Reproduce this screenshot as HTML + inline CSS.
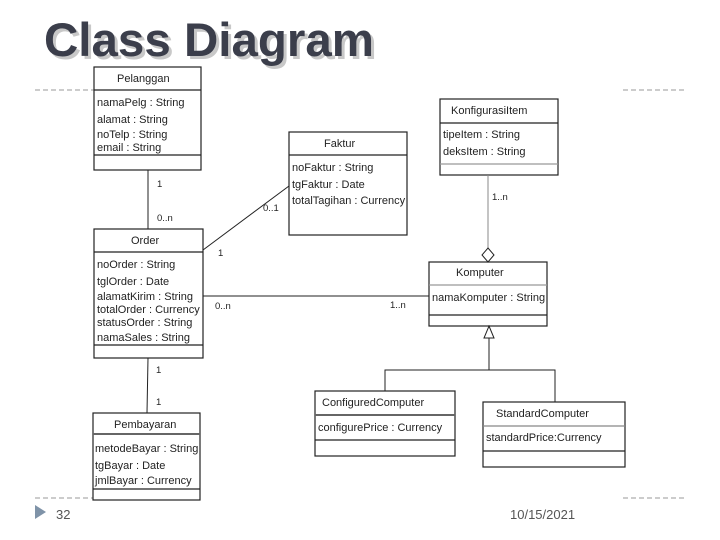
<!DOCTYPE html>
<html><head><meta charset="utf-8"><style>
html,body{margin:0;padding:0;background:#fff}
svg{display:block}
text{font-family:"Liberation Sans",sans-serif;font-size:11px;fill:#222}
</style></head><body>
<svg width="720" height="540" viewBox="0 0 720 540" xmlns="http://www.w3.org/2000/svg">
<text x="47" y="59" style="font-size:47.5px;font-weight:bold;fill:#c8c8c8">Class Diagram</text>
<text x="44" y="56" style="font-size:47.5px;font-weight:bold;fill:#3b3e4b">Class Diagram</text>
<g stroke="#999" stroke-dasharray="5,3" stroke-width="1">
<line x1="35" y1="90" x2="94" y2="90"/><line x1="623" y1="90" x2="686" y2="90"/>
<line x1="35" y1="498" x2="93" y2="498"/><line x1="623" y1="498" x2="686" y2="498"/>
</g>
<g fill="#fff" stroke="#222" stroke-width="1.2">
<rect x="94" y="67" width="107" height="103"/><line x1="94" y1="90" x2="201" y2="90"/><line x1="94" y1="155" x2="201" y2="155"/>
<rect x="289" y="132" width="118" height="103"/><line x1="289" y1="155" x2="407" y2="155"/>
<rect x="440" y="99" width="118" height="76"/><line x1="440" y1="123" x2="558" y2="123"/><line x1="440" y1="164" x2="558" y2="164" stroke="#999"/>
<rect x="429" y="262" width="118" height="64"/><line x1="429" y1="285" x2="547" y2="285" stroke="#999"/><line x1="429" y1="315" x2="547" y2="315"/>
<rect x="94" y="229" width="109" height="129"/><line x1="94" y1="252" x2="203" y2="252"/><line x1="94" y1="345" x2="203" y2="345"/>
<rect x="93" y="413" width="107" height="87"/><line x1="93" y1="434" x2="200" y2="434" stroke="#666" stroke-width="2"/><line x1="93" y1="489" x2="200" y2="489"/>
<rect x="315" y="391" width="140" height="65"/><line x1="315" y1="415" x2="455" y2="415" stroke="#666" stroke-width="2"/><line x1="315" y1="440" x2="455" y2="440"/>
<rect x="483" y="402" width="142" height="65"/><line x1="483" y1="426" x2="625" y2="426" stroke="#888"/><line x1="483" y1="451" x2="625" y2="451"/>
</g>
<g stroke="#222" stroke-width="1" fill="none">
<line x1="148" y1="170" x2="148" y2="229"/>
<line x1="203" y1="250" x2="289" y2="186"/>
<line x1="203" y1="296" x2="429" y2="296"/>
<line x1="148" y1="358" x2="147" y2="413"/>
<line x1="488" y1="175" x2="488" y2="248" stroke="#888"/>
<polygon points="488,248 494,255 488,262 482,255" fill="#fff"/>
<polygon points="489,326 494,338 484,338" fill="#fff"/>
<polyline points="489,338 489,370"/>
<polyline points="385,391 385,370 555,370 555,402"/>
</g>
<text x="117" y="82">Pelanggan</text>
<text x="97" y="106">namaPelg : String</text>
<text x="97" y="123">alamat : String</text>
<text x="97" y="138">noTelp : String</text>
<text x="97" y="151">email : String</text>
<text x="324" y="147">Faktur</text>
<text x="292" y="171">noFaktur : String</text>
<text x="292" y="188">tgFaktur : Date</text>
<text x="292" y="204">totalTagihan : Currency</text>
<text x="451" y="114">KonfigurasiItem</text>
<text x="443" y="138">tipeItem : String</text>
<text x="443" y="155">deksItem : String</text>
<text x="456" y="276">Komputer</text>
<text x="432" y="301">namaKomputer : String</text>
<text x="131" y="244">Order</text>
<text x="97" y="268">noOrder : String</text>
<text x="97" y="285">tglOrder : Date</text>
<text x="97" y="300">alamatKirim : String</text>
<text x="97" y="313">totalOrder : Currency</text>
<text x="97" y="326">statusOrder : String</text>
<text x="97" y="341">namaSales : String</text>
<text x="114" y="428">Pembayaran</text>
<text x="95" y="452">metodeBayar : String</text>
<text x="95" y="469">tgBayar : Date</text>
<text x="95" y="484">jmlBayar : Currency</text>
<text x="322" y="406">ConfiguredComputer</text>
<text x="318" y="431">configurePrice : Currency</text>
<text x="496" y="417">StandardComputer</text>
<text x="486" y="441">standardPrice:Currency</text>
<g>
<text x="157" y="187" style="font-size:9.5px">1</text>
<text x="157" y="221" style="font-size:9.5px">0..n</text>
<text x="263" y="211" style="font-size:9.5px">0..1</text>
<text x="218" y="256" style="font-size:9.5px">1</text>
<text x="215" y="309" style="font-size:9.5px">0..n</text>
<text x="390" y="308" style="font-size:9.5px">1..n</text>
<text x="492" y="200" style="font-size:9.5px">1..n</text>
<text x="156" y="373" style="font-size:9.5px">1</text>
<text x="156" y="405" style="font-size:9.5px">1</text>
</g>
<polygon points="35,505 46,512 35,519" fill="#7f93a8"/>
<text x="56" y="519" style="font-size:13px;fill:#555">32</text>
<text x="510" y="519" style="font-size:13px;fill:#555">10/15/2021</text>
</svg>
</body></html>
